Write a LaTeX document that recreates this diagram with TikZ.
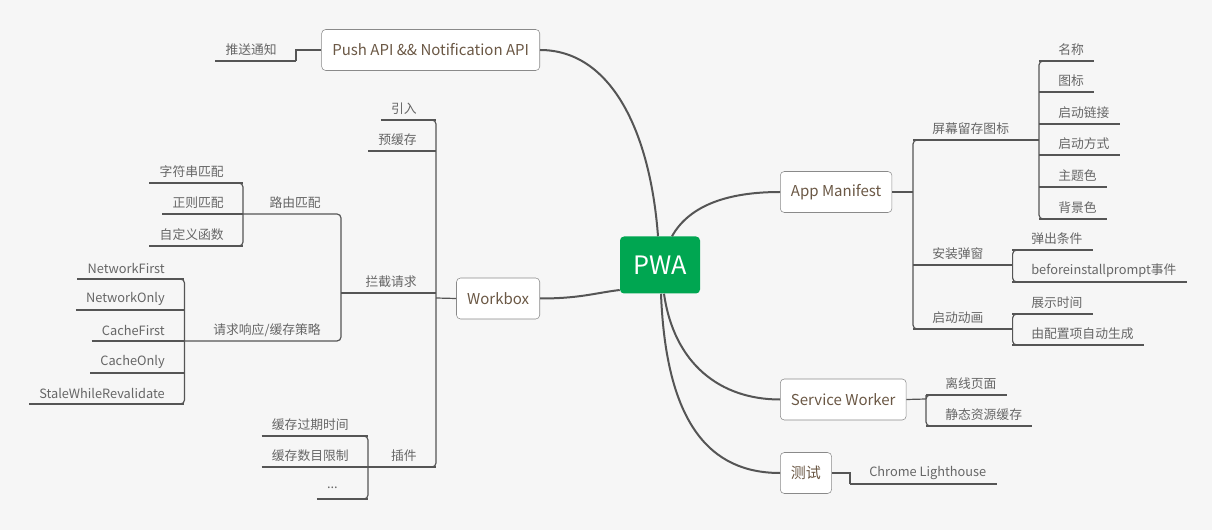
\documentclass[tikz,border=0pt]{standalone}
\usepackage{fontspec}
\setmainfont{Noto Sans CJK SC}
\definecolor{bgc}{HTML}{F6F6F6}
\definecolor{pwagreen}{HTML}{00A651}
\definecolor{linegray}{HTML}{555555}
\definecolor{boxline}{HTML}{8A8A8A}
\definecolor{topictext}{HTML}{6B5845}
\definecolor{leaftext}{HTML}{666666}
\tikzset{
  br/.style={draw=linegray, line width=0.9pt},
  cv/.style={draw=linegray, line width=1.5pt},
  root/.style={fill=pwagreen, text=white, rounded corners=3pt, minimum width=60pt,
    minimum height=42.75pt, font=\fontsize{19}{22}\selectfont},
  topic/.style={draw=boxline, fill=white, rounded corners=3pt, text=topictext,
    minimum height=30.75pt, inner xsep=8pt, font=\fontsize{11.25}{13}\selectfont},
  leaf/.style={text=leaftext, inner sep=0pt, font=\fontsize{9.6}{11}\selectfont},
  leafl/.style={leaf, anchor=east, append after command={
    ([shift={(-10,11)}]\tikzlastnode.west) edge[br] ([shift={(#1,11)}]\tikzlastnode.east)}},
  leafl/.default=19,
  leafr/.style={leaf, anchor=west, append after command={
    ([shift={(-19,11)}]\tikzlastnode.west) edge[br] ([shift={(10,11)}]\tikzlastnode.east)}},
  midl/.style={leaf, anchor=east},
  midr/.style={leaf, anchor=west}
}
\begin{document}
\begin{tikzpicture}[x=0.75pt,y=-0.75pt]
\fill[bgc] (0,0) rectangle (1212,530);
\useasboundingbox (0,0) rectangle (1212,530);

% main topics
\node[root] (pwa) at (660,265) {PWA};
\node[topic, anchor=east] (push) at (540,50) {Push API \&\& Notification API};
\node[topic, anchor=east] (workbox) at (540,298.5) {Workbox};
\node[topic, anchor=west] (app) at (780,192) {App Manifest};
\node[topic, anchor=west] (sw) at (780,399.5) {Service Worker};
\node[topic, anchor=west] (test) at (780,473) {测试};

\draw[cv] (push.east) .. controls +(70,0) and +(-8,-107) .. ([shift={(-2,0)}]pwa.north);
\draw[cv] ([shift={(12,0)}]pwa.north) .. controls +(18,-32) and +(-50,0) .. (app.west);
\draw[cv] (workbox.east) .. controls +(40,0) and +(-25,3) .. ([shift={(0,25)}]pwa.west);
\draw[cv] ([shift={(4,0)}]pwa.south) .. controls +(10,70) and +(-60,0) .. (sw.west);
\draw[cv] ([shift={(1,0)}]pwa.south) .. controls +(5,130) and +(-70,0) .. (test.west);

% Push API
\node[leafl] (tuisong) at (277,50) {推送通知};
\draw[br] (push.west) -| ([shift={(19,11)}]tuisong.east);

% Workbox
\node[leafl] (yinru) at (417,109) {引入};
\node[leafl] (yuhuancun) at (417,140) {预缓存};
\node[midl] (lanjie) at (417,282) {拦截请求};
\node[midl] (chajian) at (417,456) {插件};
\coordinate (wbj) at (436,298);
\draw[br] (workbox.west) -- (wbj);
\draw[br, rounded corners=3] ([shift={(0,11)}]yinru.east) -| (wbj) |- ([shift={(0,11)}]chajian.east);

\node[midl] (luyou) at (321,203) {路由匹配};
\node[midl] (celve) at (321,330) {请求响应/缓存策略};
\coordinate (ljj) at (341,293);
\coordinate (lyj) at (243,214);
\coordinate (clj) at (184.5,341);
\draw[br] (ljj) -- ([shift={(19,11)}]lanjie.east);
\draw[br, rounded corners=3] (lyj) -| (ljj) |- (clj);

\node[leafl] (zifu) at (224,172) {字符串匹配};
\node[leafl] (zhengze) at (224,203) {正则匹配};
\node[leafl] (zidingyi) at (224,235) {自定义函数};
\draw[br, rounded corners=3] ([shift={(0,11)}]zifu.east) -| (lyj) |- ([shift={(0,11)}]zidingyi.east);

\node[leafl] (nfirst) at (165,268) {NetworkFirst};
\node[leafl] (nonly) at (165,299) {NetworkOnly};
\node[leafl] (cfirst) at (165,330) {CacheFirst};
\node[leafl] (conly) at (165,362) {CacheOnly};
\node[leafl] (swr) at (165,393) {StaleWhileRevalidate};
\draw[br, rounded corners=3] ([shift={(0,11)}]nfirst.east) -| (clj) |- ([shift={(0,11)}]swr.east);

\node[leafl] (guoqi) at (349,425) {缓存过期时间};
\node[leafl] (shumu) at (349,456) {缓存数目限制};
\node[leafl=30] (dots) at (338,488) {...};
\coordinate (cjj) at (368,467);
\draw[br] (cjj) -- ([shift={(19,11)}]chajian.east);
\draw[br, rounded corners=3] ([shift={(0,11)}]guoqi.east) -| (cjj) |- ([shift={(0,11)}]dots.east);

% App Manifest
\node[midr] (pingmu) at (932,129) {屏幕留存图标};
\node[midr] (anzhuang) at (932,254) {安装弹窗};
\node[midr] (qidong) at (932,318) {启动动画};
\coordinate (amj) at (913,192);
\draw[br] (app.east) -- (amj);
\draw[br, rounded corners=3] ([shift={(0,11)}]pingmu.west) -| (amj) |- ([shift={(0,11)}]qidong.west);

\coordinate (pmj) at (1039,140);
\draw[br] ([shift={(-19,11)}]pingmu.west) -- (pmj);
\node[leafr] (mingcheng) at (1058,50) {名称};
\node[leafr] (tubiao) at (1058,81) {图标};
\node[leafr] (lianjie) at (1058,113) {启动链接};
\node[leafr] (fangshi) at (1058,144) {启动方式};
\node[leafr] (zhuti) at (1058,176) {主题色};
\node[leafr] (beijing) at (1058,208) {背景色};
\draw[br, rounded corners=3] ([shift={(0,11)}]mingcheng.west) -| (pmj) |- ([shift={(0,11)}]beijing.west);

\coordinate (azj) at (1012.6,265);
\draw[br] ([shift={(-19,11)}]anzhuang.west) -- (azj);
\node[leafr] (tanchu) at (1031,239) {弹出条件};
\node[leafr] (before) at (1031,271) {beforeinstallprompt事件};
\draw[br, rounded corners=3] ([shift={(0,11)}]tanchu.west) -| (azj) |- ([shift={(0,11)}]before.west);

\coordinate (qdj) at (1012.6,329);
\draw[br] ([shift={(-19,11)}]qidong.west) -- (qdj);
\node[leafr] (zhanshi) at (1031,303) {展示时间};
\node[leafr] (peizhi) at (1031,334) {由配置项自动生成};
\draw[br, rounded corners=3] ([shift={(0,11)}]zhanshi.west) -| (qdj) |- ([shift={(0,11)}]peizhi.west);

% Service Worker
\node[leafr] (lixian) at (945,384) {离线页面};
\node[leafr] (jingtai) at (945,415) {静态资源缓存};
\coordinate (swj) at (926,399);
\draw[br] (sw.east) -- (swj);
\draw[br, rounded corners=3] ([shift={(0,11)}]lixian.west) -| (swj) |- ([shift={(0,11)}]jingtai.west);

% 测试
\node[leafr] (chrome) at (869,473) {Chrome Lighthouse};
\draw[br] (test.east) -| ([shift={(-19,11)}]chrome.west);
\end{tikzpicture}
\end{document}
